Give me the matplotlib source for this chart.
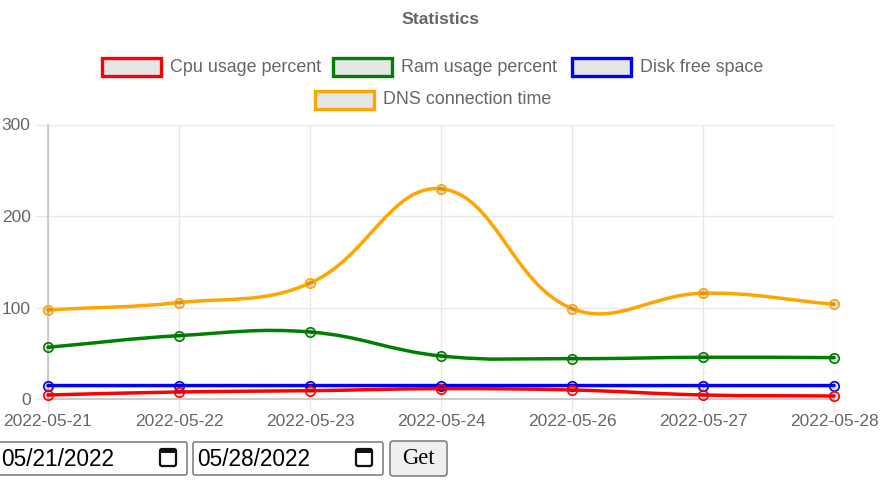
import numpy as np
import matplotlib
matplotlib.use("Agg")
import matplotlib.pyplot as plt
from matplotlib.path import Path
from matplotlib.patches import PathPatch, Rectangle, FancyBboxPatch

plt.rcParams['font.family'] = ['Liberation Sans', 'DejaVu Sans']

# data
dates = ["2022-05-21", "2022-05-22", "2022-05-23", "2022-05-24",
         "2022-05-26", "2022-05-27", "2022-05-28"]
cpu = [4.7, 8.0, 9.4, 11.6, 10.2, 4.7, 3.6]
ram = [56.8, 69.5, 73.5, 47.3, 44.4, 45.9, 45.5]
disk = [15, 15, 15, 15, 15, 15, 15]
dns = [97.6, 105.6, 126.8, 229.8, 99.0, 115.8, 103.8]

labels = ["Cpu usage percent", "Ram usage percent", "Disk free space", "DNS connection time"]
colors = ["red", "green", "blue", "orange"]
series = [cpu, ram, disk, dns]

start_date = "05/21/2022"
end_date = "05/28/2022"

W, H = 892, 500
TXT = "#666666"
PX_X = 131.0    # pixels per category step
PX_Y = 0.916    # pixels per y unit


def spline_path(xs, ys, t=0.4):
    # bezier control points the way chart.js (v2) builds them
    p = np.column_stack([np.asarray(xs, float) * PX_X, np.asarray(ys, float) * PX_Y])
    n = len(p)
    cin, cout = [], []
    for i in range(n):
        prev = p[i - 1] if i > 0 else p[i]
        nxt = p[i + 1] if i < n - 1 else p[i]
        d01 = np.hypot(*(p[i] - prev))
        d12 = np.hypot(*(nxt - p[i]))
        tot = d01 + d12
        s01 = d01 / tot if tot else 0
        s12 = d12 / tot if tot else 0
        cin.append(p[i] - t * s01 * (nxt - prev))
        cout.append(p[i] + t * s12 * (nxt - prev))
    verts = [p[0]]
    codes = [Path.MOVETO]
    for i in range(n - 1):
        verts += [cout[i], cin[i + 1], p[i + 1]]
        codes += [Path.CURVE4] * 3
    verts = np.array(verts) / [PX_X, PX_Y]
    return Path(verts, codes)


fig = plt.figure(figsize=(W / 100, H / 100), dpi=100)
L, R, T, B = 48, 834, 124.5, 399.3
ax = fig.add_axes([L / W, 1 - B / H, (R - L) / W, (B - T) / H])

x = np.arange(len(dates))
for k in range(len(series) - 1, -1, -1):
    z = 10 - k
    ax.add_patch(PathPatch(spline_path(x, series[k]), fill=False,
                           edgecolor=colors[k], lw=2.5, zorder=z, clip_on=False,
                           capstyle='round', joinstyle='round'))
    ax.plot(x, series[k], 'o', ms=6.8, mfc=(0, 0, 0, 0.12), mec=colors[k],
            mew=1.2, zorder=z, clip_on=False)

ax.set_xlim(0, len(dates) - 1)
ax.set_ylim(0, 300)
ax.set_xticks(x)
ax.set_xticklabels(dates)
ax.set_yticks([0, 100, 200, 300])
ax.grid(True, color="#e8e8e8", lw=1)
ax.set_axisbelow(True)
for s in ["top", "right"]:
    ax.spines[s].set_visible(False)
for s in ["left", "bottom"]:
    ax.spines[s].set_color("#c4c4c4")
    ax.spines[s].set_linewidth(1.2)
ax.tick_params(axis='both', colors="#e8e8e8", labelcolor=TXT, labelsize=12.5, length=9.5, width=1)
ax.tick_params(axis='x', pad=1)
ax.tick_params(axis='y', pad=3)

# overlay in pixel units for title, legend and the form below the chart
ov = fig.add_axes([0, 0, 1, 1], zorder=-1)
ov.set_xlim(0, W)
ov.set_ylim(H, 0)
ov.axis('off')

ov.text(440, 20, "Statistics", ha='center', va='center', fontsize=12.6,
        fontweight='bold', color=TXT)

legend_pos = [(102, 67), (333, 67), (572, 67), (315, 100)]
for (bx, by), lab, col in zip(legend_pos, labels, colors):
    ov.add_patch(Rectangle((bx, by - 9), 59, 18, facecolor="#e6e6e6",
                           edgecolor=col, lw=2.4))
    ov.text(bx + 68, by, lab, ha='left', va='center', fontsize=12.9, color=TXT)


def date_box(x0, x1, txt):
    ov.add_patch(FancyBboxPatch((x0, 442), x1 - x0, 33,
                                boxstyle="round,pad=0,rounding_size=2",
                                facecolor="white", edgecolor="#767676", lw=1.1))
    ov.text(x0 + 4, 459, txt, ha='left', va='center', fontsize=16.3, color="black")
    ix = x1 - 27
    ov.add_patch(FancyBboxPatch((ix, 449), 16, 17, boxstyle="round,pad=0,rounding_size=2",
                                facecolor="white", edgecolor="#111111", lw=1.6))
    ov.add_patch(Rectangle((ix, 449), 16, 3.5, facecolor="#111111", edgecolor="none"))


date_box(-3, 187, start_date)
date_box(193, 383, end_date)
ov.add_patch(FancyBboxPatch((390, 441), 57, 35, boxstyle="round,pad=0,rounding_size=3",
                            facecolor="#efefef", edgecolor="#767676", lw=1.1))
ov.text(418.5, 459, "Get", ha='center', va='center', fontsize=16.3,
        family=['Liberation Serif', 'DejaVu Serif'], color="black")

fig.savefig("out.png", dpi=100, facecolor="white")
